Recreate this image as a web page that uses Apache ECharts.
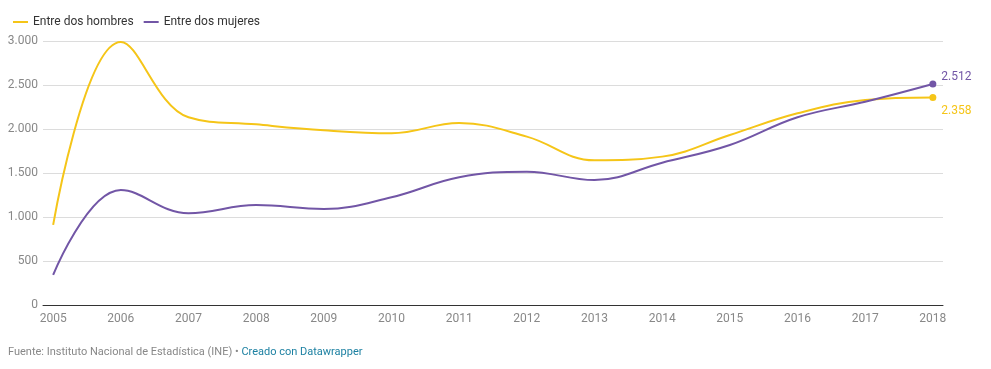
<!DOCTYPE html>
<html>
<head>
<meta charset="utf-8">
<script src="https://cdn.jsdelivr.net/npm/echarts@6/dist/echarts.min.js"></script>
<style>
html,body{margin:0;padding:0;background:#fff;}
#c{width:991px;height:369px;}
</style>
</head>
<body>
<div id="c"></div>
<script>
const years = [2005, 2006, 2007, 2008, 2009, 2010, 2011, 2012, 2013, 2014, 2015, 2016, 2017, 2018];
const hombres = [910, 2990, 2133, 2053, 1985, 1951, 2068, 1913, 1644, 1686, 1932, 2178, 2330, 2358];
const mujeres = [341, 1307, 1042, 1136, 1091, 1224, 1451, 1515, 1420, 1617, 1818, 2133, 2310, 2512];
const yTicks = [0, 500, 1000, 1500, 2000, 2500, 3000];

const colH = '#f5c518';
const colM = '#7256a6';
const fmt = v => String(Math.round(v)).replace(/\B(?=(\d{3})+(?!\d))/g, '.');

function buildData(arr, color, offY) {
  return arr.map((v, i) => {
    if (i === arr.length - 1) {
      return {
        value: [years[i], v],
        symbol: 'circle',
        symbolSize: 7,
        itemStyle: {color: color},
        label: {
          show: true, position: 'right', distance: 5, offset: [0, offY],
          color: color, fontSize: 12, fontFamily: 'Roboto',
          formatter: p => fmt(p.value[1])
        }
      };
    }
    return {value: [years[i], v], symbol: 'none'};
  });
}

const chart = echarts.init(document.getElementById('c'));
chart.setOption({
  animation: false,
  textStyle: {fontFamily: 'Roboto'},
  legend: {
    left: 8, top: 11, itemWidth: 15, itemHeight: 2, itemGap: 10, icon: 'rect',
    textStyle: {color: '#333', fontSize: 12, fontFamily: 'Roboto', padding: [0, 0, 0, 0]},
    data: ['Entre dos hombres', 'Entre dos mujeres']
  },
  grid: {left: 43, right: 48, top: 41, bottom: 64},
  xAxis: {
    type: 'value', min: years[0] - 0.15, max: years[years.length - 1] + 0.15,
    axisLine: {lineStyle: {color: '#333', width: 1}},
    axisTick: {show: false},
    splitLine: {show: false},
    axisLabel: {color: '#888', fontSize: 12, margin: 8, customValues: years, formatter: v => String(v)}
  },
  yAxis: {
    type: 'value', min: yTicks[0], max: yTicks[yTicks.length - 1], interval: 500,
    axisLine: {show: false}, axisTick: {show: false},
    splitLine: {lineStyle: {color: '#dcdcdc'}},
    axisLabel: {color: '#888', fontSize: 12, margin: 5, formatter: v => fmt(v)}
  },
  series: [
    {name: 'Entre dos hombres', type: 'line', smooth: 0.4, data: buildData(hombres, colH, 14),
     lineStyle: {color: colH, width: 2}, itemStyle: {color: colH}, z: 2},
    {name: 'Entre dos mujeres', type: 'line', smooth: 0.4, data: buildData(mujeres, colM, -7),
     lineStyle: {color: colM, width: 2}, itemStyle: {color: colM}, z: 3}
  ],
  graphic: [{
    type: 'text', left: 8, top: 347,
    style: {
      text: '{a|Fuente: Instituto Nacional de Estadística (INE) • }{b|Creado con Datawrapper}',
      rich: {
        a: {fill: '#888', fontSize: 11, fontFamily: 'Roboto'},
        b: {fill: '#1d81a2', fontSize: 11, fontFamily: 'Roboto'}
      }
    }
  }]
});
</script>
</body>
</html>
